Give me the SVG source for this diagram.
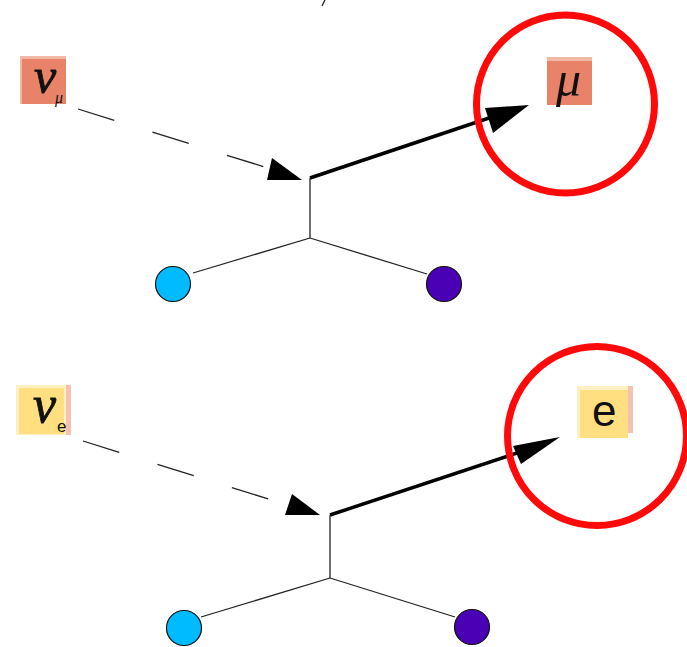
<svg xmlns="http://www.w3.org/2000/svg" width="687" height="647" viewBox="0 0 687 647">
  <style>
    .thin { stroke: #222; stroke-width: 1.3; fill: none; }
    .dash { stroke: #222; stroke-width: 1.3; fill: none; stroke-dasharray: 38 40; }
    .thick { stroke: #000; stroke-width: 3.5; fill: none; }
    .head { fill: #000; }
    .ring { fill: none; stroke: #ff0a0a; stroke-width: 7; }
    .sym { font-family: "Liberation Serif", "DejaVu Serif", serif; font-style: italic; fill: #111; }
    .lat { font-family: "Liberation Sans", "DejaVu Sans", sans-serif; fill: #111; }
    .mu-box { fill: #e8836a; }
    .mu-rim { fill: #f2b8a6; }
    .e-box { fill: #ffdf80; }
    .e-rim { fill: #fff0c4; }
    .pink { fill: #f5c2b2; }
    .blob { stroke: #111; stroke-width: 1.2; }
  </style>

  <!-- small stray tick at the top edge -->
  <line class="thin" x1="325" y1="0" x2="322" y2="6"/>

  <!-- upper process: nu_mu in, muon out -->
  <g id="connectors-top">
    <line class="dash" x1="78" y1="109" x2="268" y2="168"/>
    <polygon class="head" points="272,158 267,180 302,180"/>
    <line class="thick" x1="310" y1="178" x2="492" y2="117"/>
    <polygon class="head" points="485,108 529,105 493,133"/>
    <line class="thin" x1="310" y1="178" x2="310" y2="238"/>
    <line class="thin" x1="310" y1="238" x2="193" y2="273"/>
    <line class="thin" x1="310" y1="238" x2="427" y2="274"/>
  </g>
  <g id="nu-mu">
    <rect class="mu-rim" x="20" y="56" width="46" height="48"/>
    <rect class="mu-box" x="22" y="59" width="44" height="45"/>
    <text class="sym" x="34" y="93" font-size="50" stroke="#111" stroke-width="0.8">ν</text>
    <text class="sym" x="55" y="103" font-size="16">μ</text>
  </g>
  <g id="muon">
    <rect class="mu-rim" x="547" y="57" width="45" height="48"/>
    <rect class="mu-box" x="547" y="61" width="45" height="44"/>
    <text class="sym" x="556" y="96" font-size="50">μ</text>
  </g>
  <g id="ring-top">
    <circle class="ring" cx="565.5" cy="104" r="89"/>
  </g>
  <g id="target-left-top">
    <circle class="blob" cx="173" cy="284" r="17.5" fill="#00bbff"/>
  </g>
  <g id="target-right-top">
    <circle class="blob" cx="444" cy="284" r="17.5" fill="#4a00b4"/>
  </g>

  <!-- lower process: nu_e in, electron out -->
  <g id="connectors-bottom">
    <line class="dash" x1="83" y1="441" x2="281" y2="503"/>
    <polygon class="head" points="292,494 285,515 320,515"/>
    <line class="thick" x1="330" y1="515" x2="520" y2="452"/>
    <polygon class="head" points="513,446 560,437 521,464"/>
    <line class="thin" x1="330" y1="515" x2="330" y2="578"/>
    <line class="thin" x1="330" y1="578" x2="201" y2="617"/>
    <line class="thin" x1="330" y1="578" x2="455" y2="617"/>
  </g>
  <g id="nu-e">
    <rect class="pink" x="64" y="385" width="7" height="50"/>
    <rect class="e-rim" x="16" y="385" width="50" height="50"/>
    <rect class="e-box" x="19" y="388" width="45" height="46"/>
    <text class="sym" x="33" y="422" font-size="52" stroke="#111" stroke-width="0.8">ν</text>
    <text class="lat" x="57" y="432" font-size="17">e</text>
  </g>
  <g id="electron">
    <rect class="pink" x="626" y="386" width="7" height="47"/>
    <rect class="e-rim" x="577" y="386" width="51" height="52"/>
    <rect class="e-box" x="580" y="390" width="48" height="48"/>
    <text class="lat" x="592" y="426" font-size="44">e</text>
  </g>
  <g id="ring-bottom">
    <circle class="ring" cx="597" cy="436" r="89.5"/>
  </g>
  <g id="target-left-bottom">
    <circle class="blob" cx="184" cy="628" r="17.5" fill="#00bbff"/>
  </g>
  <g id="target-right-bottom">
    <circle class="blob" cx="472" cy="627" r="17.5" fill="#4a00b4"/>
  </g>
</svg>
